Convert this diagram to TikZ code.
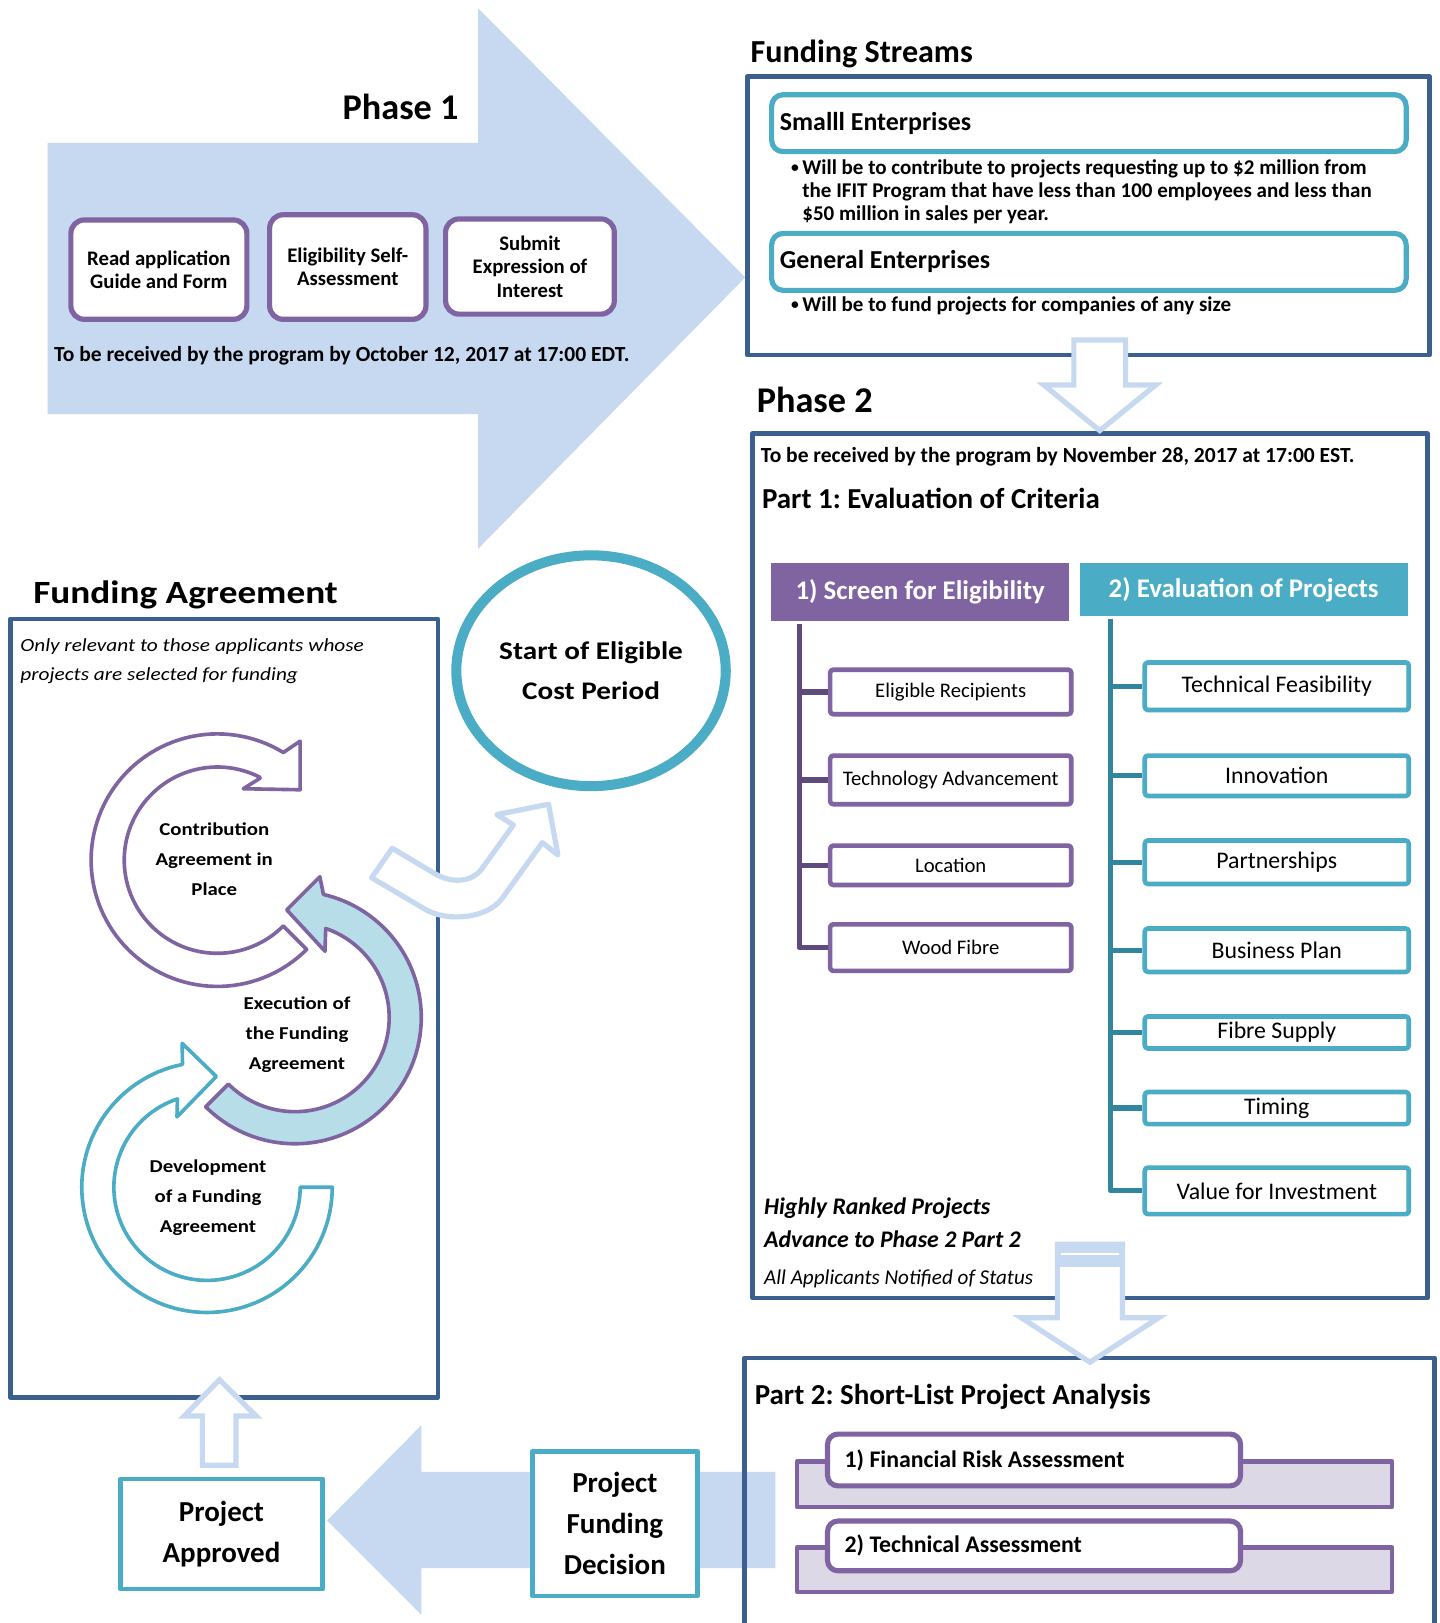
\documentclass[tikz,border=0pt]{standalone}
\usepackage{fontspec}
\setmainfont{Carlito}
\newfontfamily\widefont{Carlito}[FakeStretch=1.15]
\usetikzlibrary{shapes.geometric}
\definecolor{lblue}{HTML}{C6D9F1}
\definecolor{dblue}{HTML}{3B5F8F}
\definecolor{purp}{HTML}{8064A2}
\definecolor{dpurp}{HTML}{604A7B}
\definecolor{tealc}{HTML}{4BACC6}
\definecolor{dteal}{HTML}{31859C}
\definecolor{ltealfill}{HTML}{B7DEE8}
\definecolor{lav}{HTML}{DCD8E6}
\newcommand{\fsz}[2]{\fontsize{#1}{#2}\selectfont}
\frenchspacing
\begin{document}
\begin{tikzpicture}[x=1pt,y=-1pt,line join=round,
  dbox/.style={draw=dblue,line width=4.5pt,inner sep=0pt},
  p1box/.style={draw=purp,line width=5pt,fill=white,rounded corners=13pt,align=flush center,font=\fsz{20}{22.5}\bfseries,inner sep=0pt},
  fsbox/.style={draw=tealc,line width=5pt,fill=white,rounded corners=11pt,align=flush left,text width=597pt,minimum width=613pt,minimum height=55pt,font=\fsz{25}{30}\bfseries},
  pcrit/.style={draw=purp,line width=4.5pt,fill=white,rounded corners=3pt,minimum width=233pt,inner sep=0pt,font=\fsz{20}{24}},
  tcrit/.style={draw=tealc,line width=4.5pt,fill=white,rounded corners=3pt,minimum width=255pt,inner sep=0pt,font=\fsz{23}{27}},
  hollow/.style={draw=lblue,line width=5pt,fill=white,line join=miter},
  projbox/.style={draw=tealc,line width=4.5pt,fill=white,align=flush center,font=\fsz{28}{39.5}\bfseries,inner sep=0pt},
  lbl/.style={anchor=base west,inner sep=0pt},
  bul/.style={anchor=base west,inner sep=0pt,font=\fsz{20.3}{22}\bfseries},
  cyc/.style={align=flush center,inner sep=0pt,font=\widefont\fsz{17.5}{29}\bfseries},
  backbar/.style={draw=purp,line width=4pt,fill=lav,minimum width=575pt,minimum height=44pt,inner sep=0pt},
  frontbar/.style={draw=purp,line width=5pt,fill=white,rounded corners=10pt,minimum width=399pt,text width=366pt,align=flush left,font=\fsz{23}{27}\bfseries},
  trunkp/.style={draw=dpurp,line width=5pt},
  trunkt/.style={draw=dteal,line width=5pt}
]
\useasboundingbox (0,0) rectangle (1391,1568);
\clip (0,0) rectangle (1391,1568);
\fill[white] (0,0) rectangle (1391,1568);

% ---------- Phase 1 big arrow ----------
\fill[lblue] (46,138) -- (462,138) -- (462,8) -- (720,268) -- (462,530) -- (462,400) -- (46,400) -- cycle;
\node[anchor=base,inner sep=0pt,font=\fsz{35}{42}\bfseries] (p1title) at (387,115) {Phase 1};
\node[p1box,minimum width=170pt,minimum height=96pt] (read) at (153.5,260.5) {Read application\\Guide and Form};
\node[p1box,minimum width=151pt,minimum height=101pt] (elig) at (336,258) {Eligibility Self-\\Assessment};
\node[p1box,minimum width=163pt,minimum height=92pt] (submit) at (512,257.5) {Submit\\Expression of\\Interest};
\node[lbl,font=\fsz{20.8}{24}\bfseries] (p1date) at (52,349.5) {To be received by the program by October 12, 2017 at 17:00 EDT.};

% ---------- bottom big left arrow ----------
\fill[lblue] (749,1422) -- (407,1422) -- (407,1377) -- (316,1469) -- (407,1560) -- (407,1515) -- (749,1515) -- cycle;

% ---------- Funding Streams ----------
\node[lbl,font=\fsz{31}{36}\bfseries] (fstitle) at (725,60) {Funding Streams};
\node[dbox,minimum width=659pt,minimum height=269pt] (fsframe) at (1051.5,208.5) {};
\node[fsbox] (small) at (1052,119) {Smalll Enterprises};
\node[lbl,font=\fsz{15}{22}\bfseries] (b1) at (764,167) {•};
\node[bul] (s1) at (775,169) {Will be to contribute to projects requesting up to \$2 million from};
\node[bul] (s2) at (775,191) {the IFIT Program that have less than 100 employees and less than};
\node[bul] (s3) at (775,213) {\$50 million in sales per year.};
\node[fsbox] (general) at (1052,253) {General Enterprises};
\node[lbl,font=\fsz{15}{22}\bfseries] (b2) at (764,299) {•};
\node[bul] (g1) at (775,301) {Will be to fund projects for companies of any size};

% ---------- Phase 2 ----------
\node[lbl,font=\fsz{35}{42}\bfseries] (p2title) at (731,399) {Phase 2};
\node[dbox,minimum width=652pt,minimum height=835pt] (p2frame) at (1053,836.5) {};
\node[lbl,font=\fsz{20.8}{24}\bfseries] (p2date) at (735,446.5) {To be received by the program by November 28, 2017 at 17:00 EST.};
\node[lbl,font=\fsz{28}{32}\bfseries] (part1) at (736,491) {Part 1: Evaluation of Criteria};

\node[fill=purp,minimum width=288pt,minimum height=56pt,text=white,font=\fsz{26}{30}\bfseries] (scr) at (889,572) {1) Screen for Eligibility};
\node[fill=tealc,minimum width=317pt,minimum height=51pt,text=white,font=\fsz{26}{30}\bfseries] (evp) at (1201.5,569.5) {2) Evaluation of Projects};

\node[pcrit,minimum height=43pt] (er) at (918.5,668.5) {Eligible Recipients};
\node[pcrit,minimum height=47pt] (ta) at (918.5,753.5) {Technology Advancement};
\node[pcrit,minimum height=38pt] (loc) at (918.5,836) {Location};
\node[pcrit,minimum height=45pt] (wf) at (918.5,915.5) {Wood Fibre};

\node[tcrit,minimum height=46pt] (tf) at (1233.5,663) {Technical Feasibility};
\node[tcrit,minimum height=39pt] (inn) at (1233.5,749.5) {Innovation};
\node[tcrit,minimum height=42pt] (par) at (1233.5,833) {Partnerships};
\node[tcrit,minimum height=42pt] (bp) at (1233.5,918) {Business Plan};
\node[tcrit,minimum height=31pt] (fis) at (1233.5,997.5) {Fibre Supply};
\node[tcrit,minimum height=31pt] (tim) at (1233.5,1070.5) {Timing};
\node[tcrit,minimum height=45pt] (vfi) at (1233.5,1150.5) {Value for Investment};

\coordinate (ptrunk) at (772,603);
\coordinate (ttrunk) at (1073,598);
\draw[trunkp] (ptrunk) |- (wf.west);
\foreach \n in {er,ta,loc} \draw[trunkp] (ptrunk |- \n.west) -- (\n.west);
\draw[trunkt] (ttrunk) |- (vfi.west);
\foreach \n in {tf,inn,par,bp,fis,tim} \draw[trunkt] (ttrunk |- \n.west) -- (\n.west);

\node[lbl,font=\fsz{23}{27}\bfseries\itshape] (hr1) at (738,1173) {Highly Ranked Projects};
\node[lbl,font=\fsz{23}{27}\bfseries\itshape] (hr2) at (738,1205) {Advance to Phase 2 Part 2};
\node[lbl,font=\fsz{20.4}{24}\itshape] (hr3) at (738,1240.5) {All Applicants Notified of Status};

% ---------- Part 2 ----------
\node[dbox,minimum width=667pt,minimum height=300pt] (p2b) at (1052.5,1462) {};
\node[lbl,font=\fsz{28}{32}\bfseries] (part2) at (729,1357) {Part 2: Short-List Project Analysis};
\node[backbar] (bk1) at (1057.5,1434) {};
\node[frontbar,minimum height=50pt] (fra) at (999,1410.5) {1) Financial Risk Assessment};
\node[backbar,minimum height=43pt] (bk2) at (1057.5,1516.5) {};
\node[frontbar,minimum height=48pt] (tas) at (999,1493.5) {2) Technical Assessment};

% ---------- down arrows ----------
\draw[hollow] (1037.5,328.5) -- (1087.5,328.5) -- (1087.5,372) -- (1116.5,372) -- (1062.5,416) -- (1008.5,372) -- (1037.5,372) -- cycle;
\draw[hollow] (1021.5,1202) -- (1084.5,1202) -- (1084.5,1273) -- (1119.5,1273) -- (1053,1316) -- (986.5,1273) -- (1021.5,1273) -- cycle;
\fill[lblue] (1019,1199.5) rectangle (1087,1223.6);
\draw[white,line width=2pt] (1025,1211.7) -- (1081,1211.7);

% ---------- Funding Agreement ----------
\node[lbl,font=\widefont\fsz{31.3}{36}\bfseries] (fatitle) at (32,583) {Funding Agreement};
\node[dbox,minimum width=413pt,minimum height=752pt] (faframe) at (216.5,974) {};
\node[lbl,font=\widefont\fsz{17.9}{29}\itshape] (fa1) at (19.5,629.5) {Only relevant to those applicants whose};
\node[lbl,font=\widefont\fsz{17.9}{29}\itshape] (fa2) at (19.5,657) {projects are selected for funding};

\draw[purp,line width=3.5pt,fill=white]
  plot[domain=45:301.5,samples=90] ({210+122*cos(\x)},{831+122*sin(\x)})
  -- (290,716) -- (290,763) -- (235,762) -- (251,752)
  -- plot[domain=297.4:45,samples=90] ({210+90*cos(\x)},{831+90*sin(\x)}) -- cycle;
\draw[purp,line width=3.5pt,fill=ltealfill]
  plot[domain=135:-77,samples=90] ({285+122*cos(\x)},{983+122*sin(\x)})
  -- (309,847) -- (277,879) -- (314,919)
  -- plot[domain=-71:135,samples=90] ({285+91*cos(\x)},{983+91*sin(\x)}) -- cycle;
\draw[tealc,line width=3.5pt,fill=white]
  plot[domain=0:258.7,samples=90] ({200+121*cos(\x)},{1147+121*sin(\x)})
  -- (176,1008) -- (209,1040) -- (171,1079)
  -- plot[domain=251.5:0,samples=90] ({200+90*cos(\x)},{1147+90*sin(\x)}) -- cycle;

\node[cyc] (contrib) at (207,830) {Contribution\\Agreement in\\Place};
\node[cyc] (exec) at (287,1000) {Execution of\\the Funding\\Agreement};
\node[cyc] (devel) at (201,1157) {Development\\of a Funding\\Agreement};

% up arrow
\draw[hollow] (195.5,1415.5) -- (195.5,1368) -- (178,1368) -- (212,1333) -- (247.5,1368) -- (228,1368) -- (228,1415.5) -- cycle;

% curved arrow
\draw[hollow,line join=round] (379,819.5) -- (420,844) .. controls (437,854) and (456,852) .. (465,840) -- (496,797) -- (480,787) -- (530,777) -- (539,826) -- (524,814) -- (485,868) .. controls (470.5,888) and (431,891) .. (410,878) -- (359,848) -- cycle;

% ellipse
\node[ellipse,draw=tealc,line width=9.7pt,fill=white,minimum width=256pt,minimum height=223pt,align=flush center,font=\widefont\fsz{24.5}{38.5}\bfseries] (ecp) at (571,648) {Start of Eligible\\Cost Period};

% project boxes
\node[projbox,minimum width=159.5pt,minimum height=139.5pt] (pfd) at (594,1472) {Project\\Funding\\Decision};
\node[projbox,minimum width=195.5pt,minimum height=106.5pt] (pa) at (214,1482) {Project\\Approved};
\end{tikzpicture}
\end{document}
